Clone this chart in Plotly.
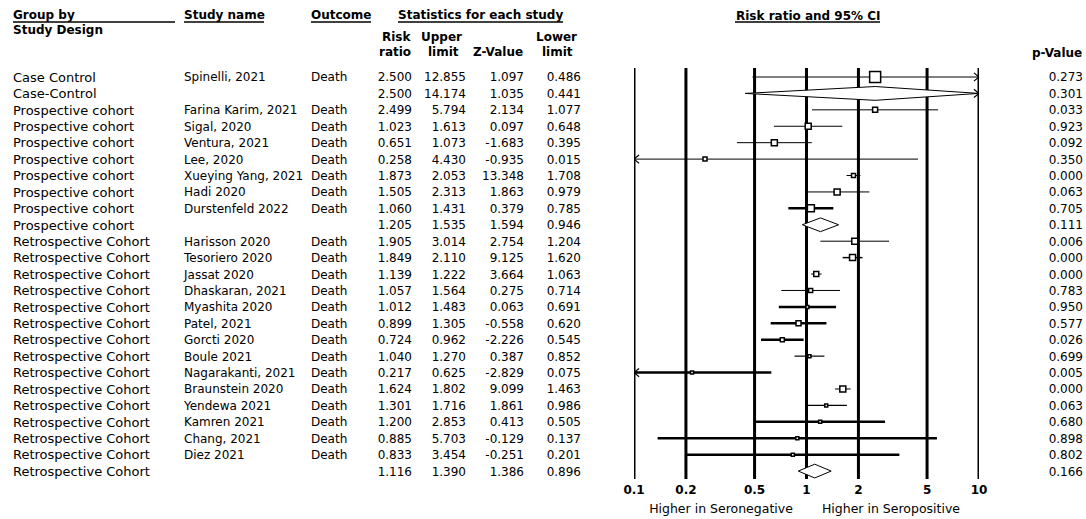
import plotly.graph_objects as go

# ---------------- data ----------------
group = ["Case Control", "Case-Control"] + ["Prospective cohort"] * 8 + ["Retrospective Cohort"] * 15
study = ["Spinelli, 2021", "", "Farina Karim, 2021", "Sigal, 2020", "Ventura, 2021", "Lee, 2020",
         "Xueying Yang, 2021", "Hadi 2020", "Durstenfeld 2022", "",
         "Harisson 2020", "Tesoriero 2020", "Jassat 2020", "Dhaskaran, 2021", "Myashita 2020",
         "Patel, 2021", "Gorcti 2020", "Boule 2021", "Nagarakanti, 2021", "Braunstein 2020",
         "Yendewa 2021", "Kamren 2021", "Chang, 2021", "Diez 2021", ""]
outcome = ["Death" if s else "" for s in study]
risk_ratio = [2.500, 2.500, 2.499, 1.023, 0.651, 0.258, 1.873, 1.505, 1.060, 1.205,
              1.905, 1.849, 1.139, 1.057, 1.012, 0.899, 0.724, 1.040, 0.217, 1.624,
              1.301, 1.200, 0.885, 0.833, 1.116]
upper_limit = [12.855, 14.174, 5.794, 1.613, 1.073, 4.430, 2.053, 2.313, 1.431, 1.535,
               3.014, 2.110, 1.222, 1.564, 1.483, 1.305, 0.962, 1.270, 0.625, 1.802,
               1.716, 2.853, 5.703, 3.454, 1.390]
z_value = [1.097, 1.035, 2.134, 0.097, -1.683, -0.935, 13.348, 1.863, 0.379, 1.594,
           2.754, 9.125, 3.664, 0.275, 0.063, -0.558, -2.226, 0.387, -2.829, 9.099,
           1.861, 0.413, -0.129, -0.251, 1.386]
lower_limit = [0.486, 0.441, 1.077, 0.648, 0.395, 0.015, 1.708, 0.979, 0.785, 0.946,
               1.204, 1.620, 1.063, 0.714, 0.691, 0.620, 0.545, 0.852, 0.075, 1.463,
               0.986, 0.505, 0.137, 0.201, 0.896]
p_value = [0.273, 0.301, 0.033, 0.923, 0.092, 0.350, 0.000, 0.063, 0.705, 0.111,
           0.006, 0.000, 0.000, 0.783, 0.950, 0.577, 0.026, 0.699, 0.005, 0.000,
           0.063, 0.680, 0.898, 0.802, 0.166]
axis_ticks = [0.1, 0.2, 0.5, 1, 2, 5, 10]
axis_tick_labels = ["0.1", "0.2", "0.5", "1", "2", "5", "10"]

# ---------------- styles ----------------
ci_width = [1, 1, 1, 1, 1, 1, 1, 1, 2.5, 1,
            1, 1.5, 1, 1, 2.5, 2.5, 2.5, 1.2, 2.5, 1,
            1.2, 2.5, 2.5, 2.5, 1]
marker_size = [11, 6, 5, 6, 6, 4, 4, 6, 7, 6,
               6, 6, 5, 4, 3, 5, 4, 3, 3, 6,
               3, 3, 3, 3, 6]

W, H = 1086, 519
ROW0, ROWH = 77, 16.42
XMIN, XMAX = 0.1, 10
FONT = "DejaVu Sans"
TEXT_DY = 0.09  # small downward nudge of table text, in rows
n = len(study)
rows = list(range(n))


def prow(py):
    return (py - ROW0) / ROWH


fig = go.Figure()

# vertical reference lines
for v in axis_ticks:
    fig.add_trace(go.Scatter(x=[v, v], y=[prow(68), prow(479)], mode="lines",
                             line=dict(color="black", width=3), hoverinfo="skip",
                             cliponaxis=False, showlegend=False))

# CI lines, markers, diamonds
for i in rows:
    lo = max(lower_limit[i], XMIN)
    hi = min(upper_limit[i], XMAX)
    r = i
    if study[i] == "":
        h = 0.42
        fig.add_trace(go.Scatter(
            x=[lo, risk_ratio[i], hi, risk_ratio[i], lo],
            y=[r, r - h, r, r + h, r], mode="lines",
            line=dict(color="black", width=1), fill="toself", fillcolor="white",
            hoverinfo="skip", cliponaxis=False, showlegend=False))
    else:
        fig.add_trace(go.Scatter(x=[lo, hi], y=[r, r], mode="lines",
                                 line=dict(color="black", width=ci_width[i]),
                                 hoverinfo="skip", cliponaxis=False, showlegend=False))
        fig.add_trace(go.Scatter(x=[risk_ratio[i]], y=[r], mode="markers",
                                 marker=dict(symbol="square", size=marker_size[i],
                                             color="white",
                                             line=dict(color="black", width=1.5)),
                                 hoverinfo="skip", cliponaxis=False, showlegend=False))
    if upper_limit[i] > XMAX:
        fig.add_trace(go.Scatter(x=[XMAX / 1.07, XMAX, XMAX / 1.07], y=[r - 0.25, r, r + 0.25],
                                 mode="lines", line=dict(color="black", width=1.2),
                                 hoverinfo="skip", cliponaxis=False, showlegend=False))
    if lower_limit[i] < XMIN:
        fig.add_trace(go.Scatter(x=[XMIN * 1.07, XMIN, XMIN * 1.07], y=[r - 0.25, r, r + 0.25],
                                 mode="lines", line=dict(color="black", width=1.2),
                                 hoverinfo="skip", cliponaxis=False, showlegend=False))

# tick labels under the plot
fig.add_trace(go.Scatter(x=axis_ticks, y=[prow(491)] * len(axis_ticks), mode="text",
                         text=[f"<b>{t}</b>" for t in axis_tick_labels],
                         textfont=dict(family=FONT, size=12, color="black"),
                         textposition="middle center", hoverinfo="skip",
                         cliponaxis=False, showlegend=False))


# table columns (on pixel x axis)
def col(xpx, texts, pos, size=12):
    fig.add_trace(go.Scatter(x=[xpx] * n, y=[r + TEXT_DY for r in rows], mode="text",
                             text=texts, textposition=pos, xaxis="x2", yaxis="y",
                             textfont=dict(family=FONT, size=size, color="black"),
                             hoverinfo="skip", cliponaxis=False, showlegend=False))


col(13, group, "middle right", 13)
col(184, study, "middle right")
col(311, outcome, "middle right")
col(412, [f"{v:.3f}" for v in risk_ratio], "middle left")
col(466, [f"{v:.3f}" for v in upper_limit], "middle left")
col(524, [f"{v:.3f}" for v in z_value], "middle left")
col(581, [f"{v:.3f}" for v in lower_limit], "middle left")
col(1083, [f"{v:.3f}" for v in p_value], "middle left")

# axis direction labels
fig.add_trace(go.Scatter(x=[721, 891], y=[prow(510)] * 2, mode="text",
                         text=["Higher in Seronegative", "Higher in Seropositive"],
                         textposition="middle center", xaxis="x2", yaxis="y",
                         textfont=dict(family=FONT, size=12.5, color="black"),
                         hoverinfo="skip", cliponaxis=False, showlegend=False))

# headers
annotations = []
shapes = []


def header(text, xpx, ypx, anchor, bold=True):
    annotations.append(dict(text=f"<b>{text}</b>" if bold else text,
                            x=xpx / W, y=1 - ypx / H, xref="paper", yref="paper",
                            xanchor=anchor, yanchor="middle", showarrow=False,
                            font=dict(family=FONT, size=12, color="black")))


def underline(x0, x1, ypx):
    shapes.append(dict(type="line", xref="paper", yref="paper",
                       x0=x0 / W, x1=x1 / W, y0=1 - ypx / H, y1=1 - ypx / H,
                       line=dict(color="black", width=1.5)))


header("Group by", 11, 15, "left")
underline(13, 175, 22)
header("Study Design", 11, 30, "left")
header("Study name", 182, 15, "left")
underline(184, 264, 22)
header("Outcome", 309, 15, "left")
underline(311, 371, 22)
header("Statistics for each study", 480, 15, "center")
underline(398, 563, 22)
header("Risk", 413, 37, "right")
header("ratio", 413, 52, "right")
header("Upper", 441, 37, "center")
header("limit", 443, 52, "center")
header("Z-Value", 525, 52, "right")
header("Lower", 556, 37, "center")
header("limit", 557, 52, "center")
header("Risk ratio and 95% CI", 808, 16, "center")
underline(735, 880, 22)
header("p-Value", 1084, 53, "right")

fig.update_layout(
    width=W, height=H, margin=dict(l=0, r=0, t=0, b=0),
    paper_bgcolor="white", plot_bgcolor="rgba(0,0,0,0)",
    xaxis=dict(type="log", range=[-1, 1], domain=[634 / W, 979 / W], visible=False,
               fixedrange=True),
    xaxis2=dict(range=[0, W], domain=[0, 1], visible=False, anchor="y", fixedrange=True),
    yaxis=dict(range=[prow(H), prow(0)], domain=[0, 1], visible=False, fixedrange=True),
    annotations=annotations, shapes=shapes, showlegend=False,
)

fig.write_html("out.html", config={"displayModeBar": False},
               post_script="document.body.style.margin='0';document.body.style.padding='0';")
